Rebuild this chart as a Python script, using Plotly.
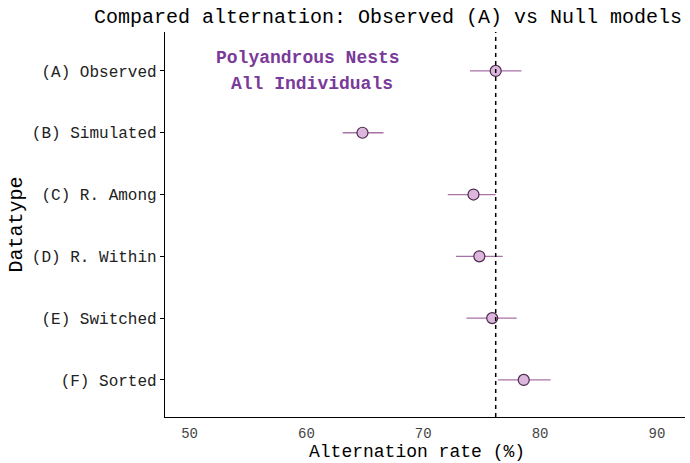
import plotly.graph_objects as go

categories = ["(A) Observed", "(B) Simulated", "(C) R. Among", "(D) R. Within", "(E) Switched", "(F) Sorted"]
means = [76.2, 64.8, 74.3, 74.8, 75.9, 78.6]
lower = [74.0, 63.1, 72.1, 72.8, 73.7, 76.4]
upper = [78.4, 66.6, 76.2, 76.8, 78.0, 80.9]
observed_ref = 76.2
x_ticks = [50, 60, 70, 80, 90]

FONT = "Liberation Mono, Courier New, monospace"

err_plus = [u - m for u, m in zip(upper, means)]
err_minus = [m - l for m, l in zip(means, lower)]

fig = go.Figure()
fig.add_trace(go.Scatter(
    x=means, y=categories, mode="markers",
    marker=dict(size=11, color="#dcb6dc", line=dict(color="#4a2a4a", width=1.2)),
    error_x=dict(type="data", symmetric=False, array=err_plus, arrayminus=err_minus,
                 color="#a872a8", thickness=1.3, width=0),
    showlegend=False,
))

fig.add_shape(type="line", x0=observed_ref, x1=observed_ref, xref="x", y0=0, y1=1, yref="paper",
              line=dict(color="black", width=1.5, dash="4px,4px"), layer="above")

L, R, T, B = 165, 685, 32, 417
def px_x(p):
    return (p - L) / (R - L)
def px_y(p):
    return 1 - (p - T) / (B - T)

fig.add_annotation(x=px_x(308), y=px_y(58), xref="x domain", yref="paper",
                   xanchor="center", yanchor="middle",
                   text="<b>Polyandrous Nests</b>", showarrow=False,
                   font=dict(family=FONT, size=18, color="#7a3a9a"))
fig.add_annotation(x=px_x(312), y=px_y(84), xref="x domain", yref="paper",
                   xanchor="center", yanchor="middle",
                   text="<b>All Individuals</b>", showarrow=False,
                   font=dict(family=FONT, size=18, color="#7a3a9a"))
# x-axis title
fig.add_annotation(x=px_x(417), y=px_y(452), xref="x domain", yref="paper",
                   xanchor="center", yanchor="middle", borderpad=0,
                   text="Alternation rate (%)", showarrow=False,
                   font=dict(family=FONT, size=18, color="black"))

fig.update_layout(
    width=690, height=463,
    margin=dict(l=L, r=690 - R, t=T, b=463 - B),
    paper_bgcolor="white", plot_bgcolor="white",
    font=dict(family=FONT, color="#333333"),
    title=dict(text="Compared alternation: Observed (A) vs Null models",
               x=388 / 690, xanchor="center", y=1 - 16 / 463, yanchor="middle",
               font=dict(family=FONT, size=20, color="black")),
    xaxis=dict(range=[47.9, 92.4], tickvals=x_ticks, ticktext=[str(t) for t in x_ticks],
               showgrid=False, zeroline=False, showline=True, linecolor="black", linewidth=1.3,
               ticks="", ticklabelstandoff=3, automargin=False,
               tickfont=dict(family=FONT, size=14, color="#444444")),
    yaxis=dict(type="category", categoryorder="array", categoryarray=categories,
               range=[5.6, -0.63], showgrid=False, zeroline=False, showline=True,
               linecolor="black", linewidth=1.3, ticks="outside", ticklen=4, tickcolor="black",
               automargin=False,
               tickfont=dict(family=FONT, size=16, color="#222222"),
               title=dict(text="Datatype", font=dict(family=FONT, size=20, color="black"),
                          standoff=3)),
)

fig.write_html("out.html")
